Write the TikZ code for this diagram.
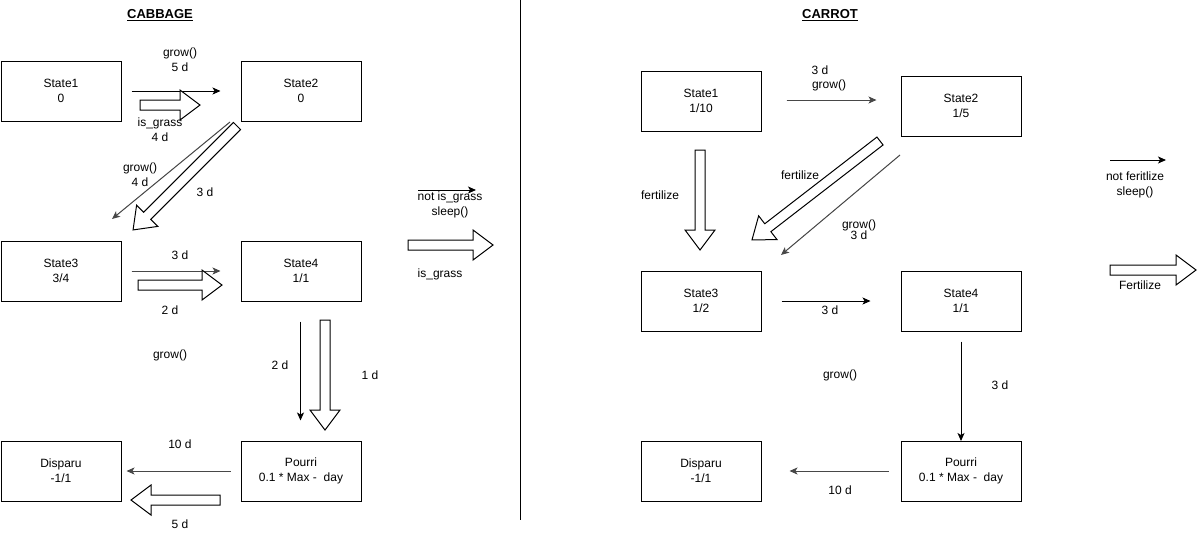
\documentclass[tikz,border=0pt]{standalone}
\usepackage{fontspec}
\setmainfont{Liberation Sans}
\usetikzlibrary{arrows.meta,calc}
\tikzset{
  box/.style={draw, line width=1pt, minimum width=120pt, minimum height=60pt, anchor=north west, inner sep=0pt, align=center, font=\fontsize{12pt}{15pt}\selectfont},
  lbl/.style={inner sep=0pt, align=center, font=\fontsize{12pt}{15pt}\selectfont},
  ttl/.style={inner sep=0pt, font=\fontsize{13pt}{15pt}\selectfont\bfseries},
  conn/.style={line width=1pt, -{Stealth[length=8pt,width=7pt,inset=2pt]}},
  greyconn/.style={conn, draw=black!72, fill=black!72},
  hollow/.style={draw, line width=1pt, fill=white, line join=miter},
}
\newcommand{\blockarr}[4]{% x, y, angle, length
  \draw[hollow, shift={(#1,#2)}, rotate=#3]
    (0pt,-5pt) -- ({#4-20},-5pt) -- ({#4-20},-15pt) -- (#4pt,0pt) -- ({#4-20},15pt) -- ({#4-20},5pt) -- (0pt,5pt) -- cycle;}
\begin{document}
\begin{tikzpicture}[x=1pt,y=-1pt]
\useasboundingbox (0,0) rectangle (1201,541);
% titles and divider
\node[ttl] (tcab) at (160,15) {\underline{CABBAGE}};
\node[ttl] (tcar) at (830,15) {\underline{CARROT}};
\coordinate (divtop) at (520.5,0);
\coordinate (divbot) at (520.5,520);
\draw[line width=1pt] (divtop) -- (divbot);

% ---------- CABBAGE ----------
\node[box] (a1) at (0.5,60.5) {State1\\0};
\node[box] (a2) at (240.5,60.5) {State2\\0};
\node[box] (a3) at (0.5,240.5) {State3\\3/4};
\node[box] (a4) at (240.5,240.5) {State4\\1/1};
\node[box] (a5) at (0.5,440.5) {Disparu\\-1/1};
\node[box] (a6) at (240.5,440.5) {Pourri\\0.1 * Max -\ \ day};

\draw[conn] ([xshift=10pt]a1.east) -- ([xshift=-20pt]a2.west);
\node[lbl] at (180,60) {grow()\\5 d};
\blockarr{140}{105}{0}{60}
\node[lbl] at (160,130) {is\_grass\\4 d};

\coordinate (a2s) at (230,122);
\coordinate (a3e) at (112,219);
\draw[greyconn] (a2s) -- (a3e);
\node[lbl] at (140,175) {grow()\\4 d};
\blockarr{237}{126}{225}{147}
\node[lbl] at (205,192) {3 d};

\draw[greyconn] ([xshift=10pt]a3.east) -- ([xshift=-20pt]a4.west);
\node[lbl] at (180,255) {3 d};
\blockarr{138}{285}{0}{84}
\node[lbl] at (170,310) {2 d};
\node[lbl] at (170,355) {grow()};

\draw[conn] ($(a4.south west)+(60,20)$) -- ($(a6.north west)+(60,-20)$);
\node[lbl] at (280,365) {2 d};
\blockarr{325}{320}{-90}{110}
\node[lbl] at (370,375) {1 d};

\draw[greyconn] ([xshift=-10pt]a6.west) -- ([xshift=5pt]a5.east);
\node[lbl] at (180,444) {10 d};
\blockarr{220}{500}{180}{89}
\node[lbl] at (180,524) {5 d};

% legend middle
\coordinate (l1s) at (418,190);
\coordinate (l1e) at (476,190);
\draw[conn] (l1s) -- (l1e);
\node[lbl] at (450,205) {not is\_grass\\sleep()};
\blockarr{408}{245}{0}{85}
\node[lbl] at (440,274) {is\_grass};

% ---------- CARROT ----------
\node[box] (b1) at (640.5,70.5) {State1\\1/10};
\node[box] (b2) at (900.5,75.5) {State2\\1/5};
\node[box] (b3) at (640.5,270.5) {State3\\1/2};
\node[box] (b4) at (900.5,270.5) {State4\\1/1};
\node[box] (b5) at (640.5,440.5) {Disparu\\-1/1};
\node[box] (b6) at (900.5,440.5) {Pourri\\0.1 * Max -\ \ day};

\draw[greyconn] ($(b1.east)+(25,-1)$) -- ($(b2.west)+(-24,-6)$);
\node[lbl] at (820,70) {3 d};
\node[lbl] at (829,85) {grow()};

\blockarr{700}{150}{-90}{100}
\node[lbl] at (660,195) {fertilize};

\blockarr{880}{141}{217.7}{161.8}
\node[lbl] at (800,175) {fertilize};

\coordinate (b2s) at (900,155);
\coordinate (b3e) at (781,255);
\draw[greyconn] (b2s) -- (b3e);
\node[lbl] at (859,225) {grow()};
\node[lbl] at (859,235) {3 d};

\draw[conn] ([xshift=20pt]b3.east) -- ([xshift=-30pt]b4.west);
\node[lbl] at (830,310) {3 d};
\node[lbl] at (840,375) {grow()};

\draw[conn] ([yshift=-10pt]b4.south) -- ([yshift=-0.5pt]b6.north);
\node[lbl] at (1000,385) {3 d};

\draw[greyconn] ([xshift=-12pt]b6.west) -- ([xshift=28pt]b5.east);
\node[lbl] at (840,490) {10 d};

% legend right
\coordinate (l2s) at (1110,160);
\coordinate (l2e) at (1166,160);
\draw[conn] (l2s) -- (l2e);
\node[lbl] at (1135,185) {not feritlize\\sleep()};
\blockarr{1110}{270}{0}{86}
\node[lbl] at (1140,285) {Fertilize};
\end{tikzpicture}
\end{document}
